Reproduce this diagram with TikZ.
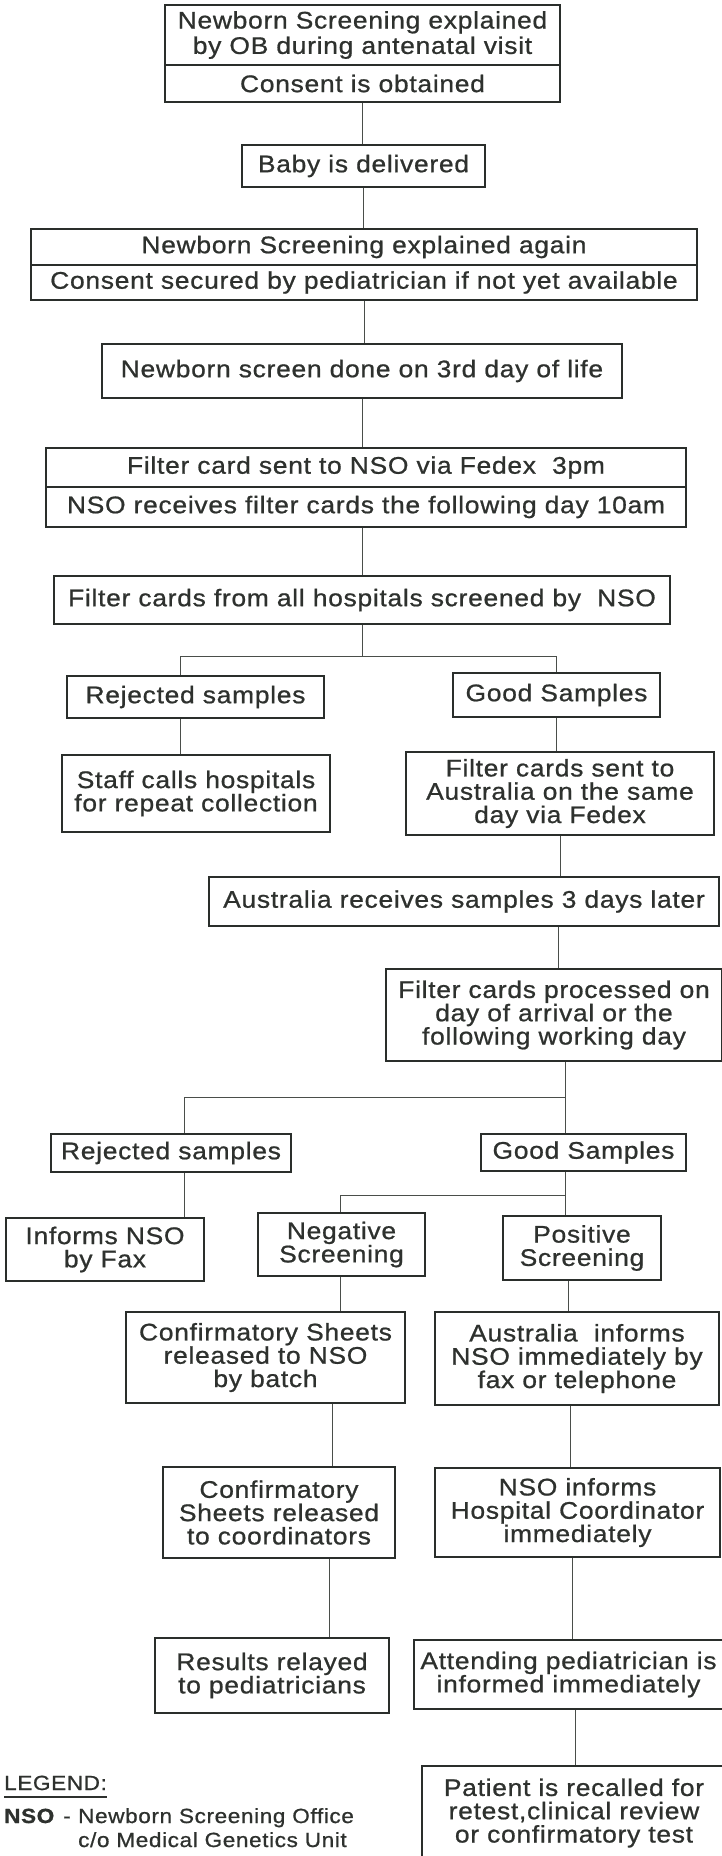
\documentclass[tikz,border=0pt]{standalone}
\usepackage{fontspec}
\setmainfont{Liberation Sans}[FakeStretch=1.1, LetterSpace=3, FakeBold=0.8]
\definecolor{linec}{HTML}{2A2E2B}
\definecolor{textc}{HTML}{2E312E}
\definecolor{connc}{HTML}{4A4E4A}
\newcommand\bx[6]{\node[box, minimum width={(#4)-(#2)}, minimum height={(#5)-(#3)}] (#1) at ({((#2)+(#4))/2},{((#3)+(#5))/2}) {#6};}
\begin{document}
\begin{tikzpicture}[x=1pt,y=-1pt,
  box/.style={draw=linec, line width=1.6pt, inner sep=0pt, align=center, text=textc, font=\fontsize{24}{23.3}\selectfont},
  conn/.style={draw=connc, line width=0.9pt},
  leg/.style={inner sep=0pt, text=textc, font=\fontsize{20.5}{24}\selectfont}]
\useasboundingbox[fill=white] (0,0) rectangle (721,1856);
% boxes
\bx{b1a}{165}{5}{560}{65}{\raisebox{-3pt}{\shortstack{Newborn Screening explained\\by OB during antenatal visit}}}
\bx{b1b}{165}{65}{560}{102}{Consent is obtained}
\bx{baby}{242}{145}{485}{187}{Baby is delivered}
\bx{b3a}{31}{229}{697}{265}{Newborn Screening explained again}
\bx{b3b}{31}{265}{697}{300}{Consent secured by pediatrician if not yet available}
\bx{b4}{102}{344}{622}{398}{Newborn screen done on 3rd day of life}
\bx{b5a}{46}{448}{686}{487}{Filter card sent to NSO via Fedex~~3pm}
\bx{b5b}{46}{487}{686}{527}{NSO receives filter cards the following day 10am}
\bx{b6}{54}{576}{670}{624}{Filter cards from all hospitals screened by~~NSO}
\bx{rej1}{67}{676}{324}{718}{Rejected samples}
\bx{good1}{453}{673}{660}{717}{Good Samples}
\bx{staff}{62}{755}{330}{832}{Staff calls hospitals\\for repeat collection}
\bx{sent}{406}{752}{714}{835}{Filter cards sent to\\Australia on the same\\day via Fedex}
\bx{ausrec}{209}{877}{719}{926}{Australia receives samples 3 days later}
\bx{proc}{386}{969}{722}{1061}{Filter cards processed on\\day of arrival or the\\following working day}
\bx{rej2}{51}{1134}{291}{1172}{Rejected samples}
\bx{good2}{481}{1134}{686}{1171}{Good Samples}
\bx{fax}{6}{1218}{204}{1281}{Informs NSO\\by Fax}
\bx{neg}{258}{1213}{425}{1276}{Negative\\Screening}
\bx{pos}{503}{1216}{661}{1280}{Positive\\Screening}
\bx{conf1}{126}{1312}{405}{1403}{Confirmatory Sheets\\released to NSO\\by batch}
\bx{ausinf}{435}{1312}{719}{1405}{Australia~~informs\\NSO immediately by\\fax or telephone}
\bx{conf2}{163}{1467}{395}{1558}{Confirmatory\\Sheets released\\to coordinators}
\bx{nsoinf}{435}{1468}{720}{1557}{NSO informs\\Hospital Coordinator\\immediately}
\bx{res}{155}{1638}{389}{1713}{Results relayed\\to pediatricians}
\bx{att}{414}{1640}{723}{1709}{Attending pediatrician is\\informed immediately}
\bx{pat}{422}{1766}{726}{1860}{Patient is recalled for\\retest,clinical review\\or confirmatory test}
% helper coordinates
\coordinate (xa) at (180,0);
\coordinate (xb) at (558,0);
\coordinate (xc) at (565,0);
\coordinate (xd) at (184,0);
\coordinate (xe) at (340,0);
\coordinate (xf) at (332,0);
\coordinate (xg) at (329,0);
\coordinate (xh) at (568,0);
\coordinate (xi) at (570,0);
\coordinate (xj) at (572,0);
\coordinate (xk) at (575,0);
\coordinate (ya) at (0,656);
\coordinate (yb) at (0,1097);
\coordinate (yc) at (0,1195);
% connectors
\draw[conn] (b1b.south) -- (b1b.south |- baby.north);
\draw[conn] (baby.south) -- (baby.south |- b3a.north);
\draw[conn] (b3b.south) -- (b3b.south |- b4.north);
\draw[conn] (b4.south) -- (b4.south |- b5a.north);
\draw[conn] (b6.north |- b5b.south) -- (b6.north);
\draw[conn] (b6.south) -- (b6.south |- ya) -| (xa |- rej1.north);
\draw[conn] (b6.south |- ya) -| (good1.north);
\draw[conn] (xa |- rej1.south) -- (xa |- staff.north);
\draw[conn] (good1.south) -- (good1.south |- sent.north);
\draw[conn] (sent.south) -- (sent.south |- ausrec.north);
\draw[conn] (xb |- ausrec.south) -- (xb |- proc.north);
\draw[conn] (xc |- proc.south) -- (xc |- yb) -| (xd |- rej2.north);
\draw[conn] (xc |- yb) -- (xc |- good2.north);
\draw[conn] (xd |- rej2.south) -- (xd |- fax.north);
\draw[conn] (xc |- good2.south) -- (xc |- yc) -| (xe |- neg.north);
\draw[conn] (xc |- yc) -- (xc |- pos.north);
\draw[conn] (xe |- neg.south) -- (xe |- conf1.north);
\draw[conn] (xf |- conf1.south) -- (xf |- conf2.north);
\draw[conn] (xg |- conf2.south) -- (xg |- res.north);
\draw[conn] (xh |- pos.south) -- (xh |- ausinf.north);
\draw[conn] (xi |- ausinf.south) -- (xi |- nsoinf.north);
\draw[conn] (xj |- nsoinf.south) -- (xj |- att.north);
\draw[conn] (xk |- att.south) -- (xk |- pat.north);
% legend
\node[leg, anchor=base west] (legend) at (4,1790) {LEGEND:};
\draw[draw=textc, line width=1.3pt] ([yshift=-7pt]legend.base west) -- ([yshift=-7pt]legend.base east);
\node[leg, anchor=base west, font=\fontsize{20.5}{24}\selectfont\bfseries] (nso) at (4,1823) {NSO};
\node[leg, anchor=base] (dash) at (67,1823) {-};
\node[leg, anchor=base west] (legA) at (78,1823) {Newborn Screening Office};
\node[leg, anchor=base west] (legB) at (78,1847) {c/o Medical Genetics Unit};
\end{tikzpicture}
\end{document}
